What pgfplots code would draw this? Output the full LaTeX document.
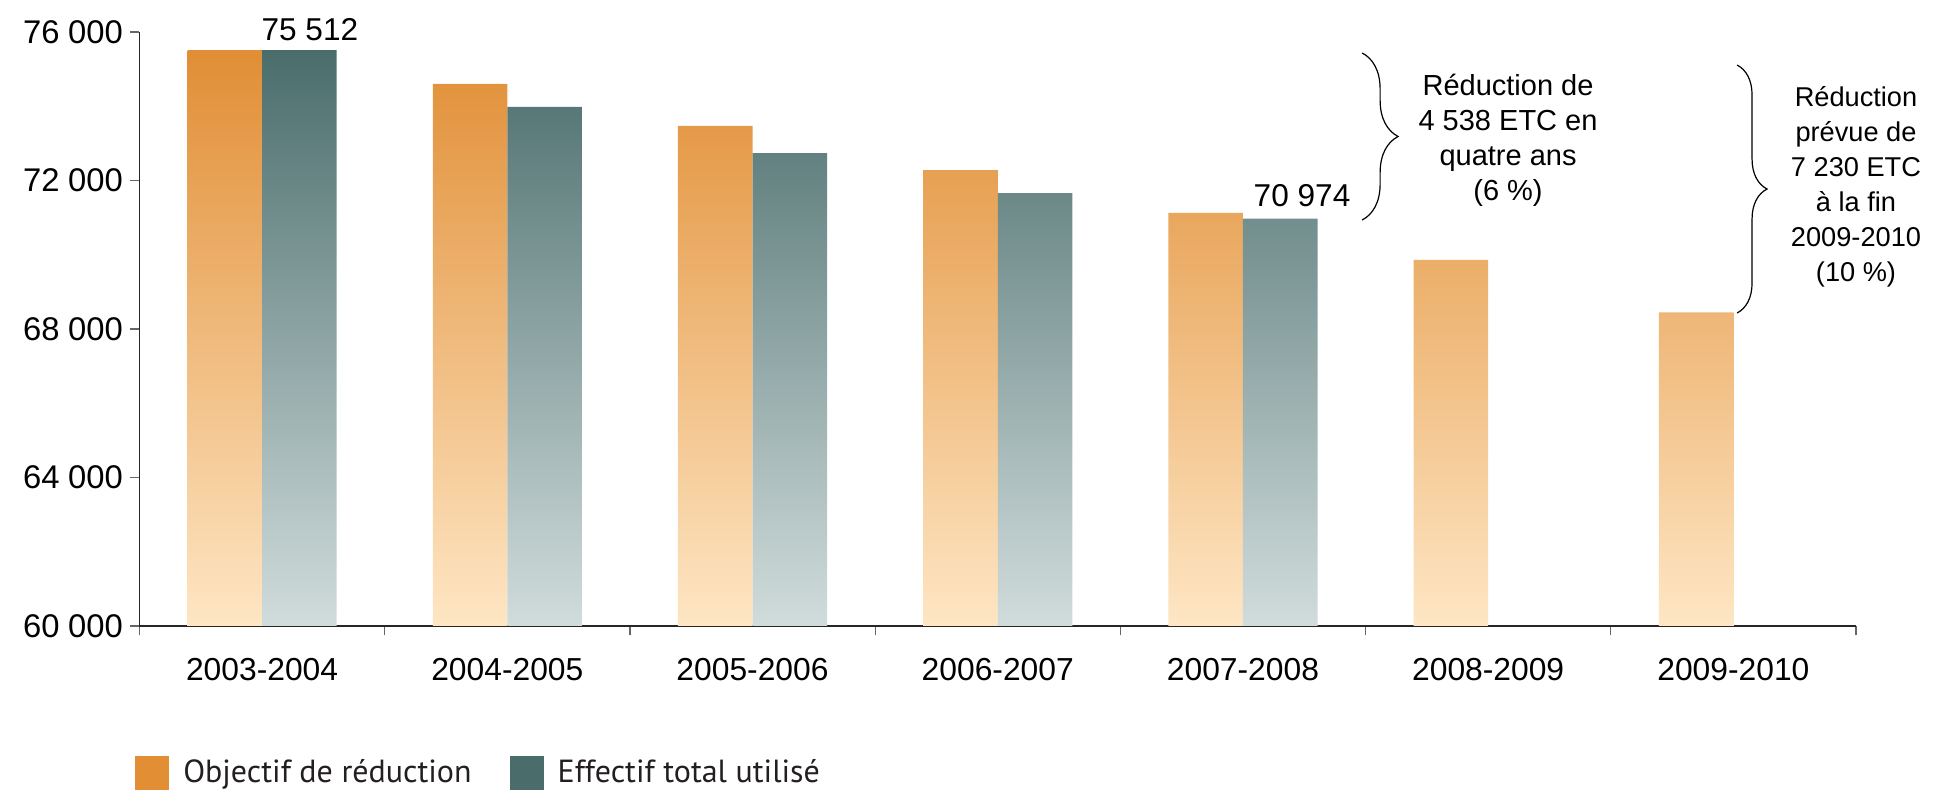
\documentclass[border=0pt]{standalone}
\usepackage{fontspec}
\setmainfont{Liberation Sans}
\newfontfamily\legendfont{PT Sans}
\usepackage{pgfplots}
\pgfplotsset{compat=1.18}
\usetikzlibrary{decorations.pathreplacing}
\definecolor{orTop}{HTML}{E18E35}
\definecolor{orBot}{HTML}{FEE6C4}
\definecolor{tlTop}{HTML}{4A6D6C}
\definecolor{tlBot}{HTML}{D1DCDC}
\definecolor{legtxt}{HTML}{231F20}
\newcommand{\tsp}{\hspace{0.26em}}
\begin{document}
\begin{tikzpicture}
\begin{axis}[
  scale only axis, width=858.25pt, height=297pt,
  xmin=0.5, xmax=7.5, ymin=0, ymax=16000,
  y filter/.expression={y-60000},
  scaled y ticks=false,
  axis x line*=bottom, axis y line*=left,
  axis line style={-, line width=0.7pt, color=black!85},
  xtick={0.5,1.5,...,7.5},
  x tick label as interval,
  xticklabels={2003-2004,2004-2005,2005-2006,2006-2007,2007-2008,2008-2009,2009-2010},
  xticklabel style={yshift=-8pt, font=\fontsize{15.9}{18}\selectfont},
  ytick={0,4000,8000,12000,16000},
  yticklabels={60\tsp000,64\tsp000,68\tsp000,72\tsp000,76\tsp000},
  yticklabel style={font=\fontsize{16.4}{18}\selectfont},
  major tick length=4.75pt,
  tick align=outside,
  tick style={line width=0.6pt, color=black!60},
  tick label style={color=black},
  clip=false,
  legend style={draw=none, fill=none, at={(-0.0062,-0.247)}, anchor=west,
    legend columns=2, font=\legendfont\fontsize{16}{19}\selectfont, text=legtxt,
    /tikz/every even column/.append style={column sep=17pt}},
  legend image code/.code={\fill[#1] (0pt,-8.5pt) rectangle (17pt,8.5pt); \path (22pt,0pt);},
]
\addplot[ybar, bar width=0.304, bar shift=-0.152, draw=none, top color=orTop, bottom color=orBot, forget plot]
  coordinates {(1,75512) (2,74600) (3,73470) (4,72280) (5,71130) (6,69860) (7,68450)};
\addplot[ybar, bar width=0.304, bar shift=0.152, draw=none, top color=tlTop, bottom color=tlBot, forget plot]
  coordinates {(1,75512) (2,73980) (3,72740) (4,71660) (5,70974)};
\addlegendimage{fill=orTop, draw=none}
\addlegendentry{Objectif de réduction}
\addlegendimage{fill=tlTop, draw=none}
\addlegendentry{Effectif total utilisé}

\node[anchor=base, font=\fontsize{15.8}{18}\selectfont] at (axis cs:1.195,15758) {75 512};
\node[anchor=base, font=\fontsize{15.8}{18}\selectfont] at (axis cs:5.241,11286) {70 974};

\draw[line width=0.6pt, decorate, decoration={brace, amplitude=18pt}] (axis cs:5.486,15434) -- (axis cs:5.486,10936);
\draw[line width=0.6pt, decorate, decoration={brace, amplitude=15pt}] (axis cs:7.015,15110) -- (axis cs:7.015,8431);

\node[align=center, font=\fontsize{14.5}{17.5}\selectfont] at (axis cs:6.081,13091)
  {Réduction de\\4 538 ETC en\\quatre ans\\(6 \%)};
\node[align=center, font=\fontsize{13.6}{17.5}\selectfont] at (axis cs:7.50,11824)
  {Réduction\\prévue de\\7 230 ETC\\à la fin\\2009-2010\\(10 \%)};
\end{axis}
\pgfresetboundingbox
\useasboundingbox (-69.75pt,-82pt) rectangle (902.25pt,313pt);
\end{tikzpicture}
\end{document}
